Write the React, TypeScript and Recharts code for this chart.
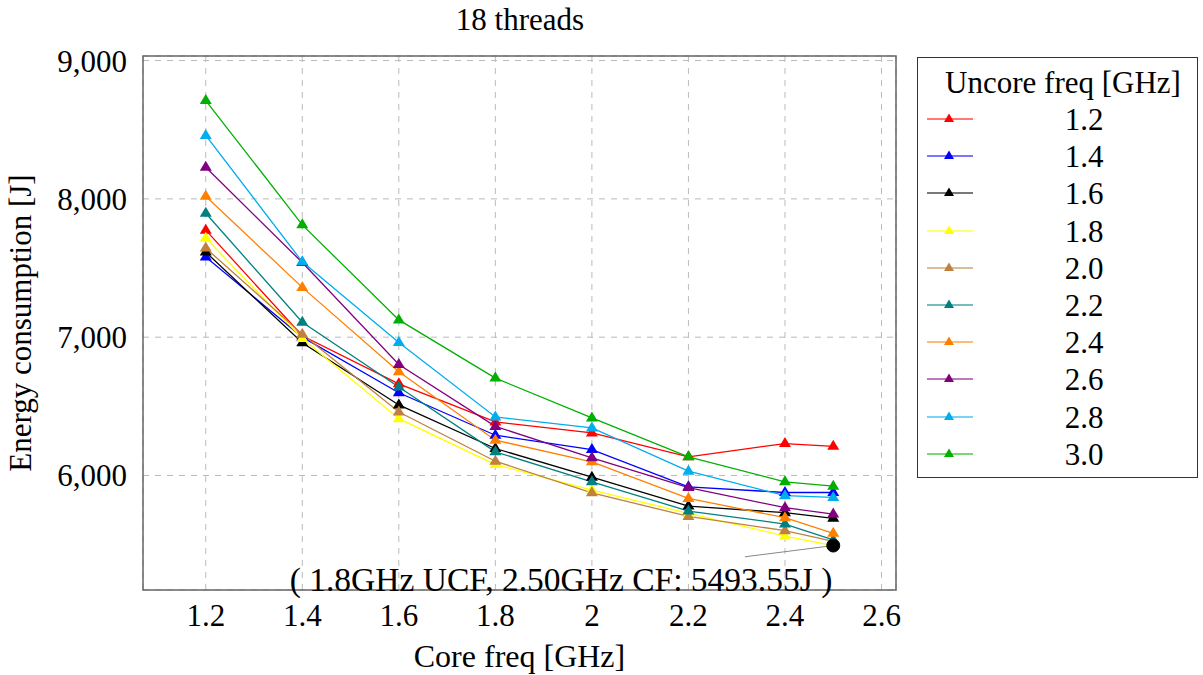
import { LineChart, Line, XAxis, YAxis, CartesianGrid, ReferenceDot, ReferenceLine, ReferenceArea, Label } from "recharts"

const coreFreq = [1.2, 1.4, 1.6, 1.8, 2.0, 2.2, 2.4, 2.5]

const uncoreFreqs = ["1.2", "1.4", "1.6", "1.8", "2.0", "2.2", "2.4", "2.6", "2.8", "3.0"]

const e12 = [7774, 7010, 6663, 6387, 6308, 6135, 6231, 6211]
const e14 = [7579, 7000, 6598, 6291, 6187, 5918, 5877, 5877]
const e16 = [7615, 6960, 6510, 6195, 5988, 5779, 5731, 5690]
const e18 = [7716, 6990, 6411, 6079, 5894, 5726, 5562, 5493.55]
const e20 = [7644, 7022, 6459, 6103, 5875, 5704, 5601, 5524]
const e22 = [7896, 7108, 6640, 6171, 5954, 5743, 5649, 5534]
const e24 = [8019, 7360, 6750, 6255, 6099, 5834, 5695, 5582]
const e26 = [8228, 7540, 6802, 6355, 6128, 5913, 5767, 5721]
const e28 = [8459, 7545, 6961, 6423, 6344, 6031, 5854, 5841]
const e30 = [8711, 7812, 7125, 6704, 6416, 6135, 5954, 5923]

const energies = [e12, e14, e16, e18, e20, e22, e24, e26, e28, e30]

const COLORS = ["#ff0000", "#0000ff", "#000000", "#ffff00", "#bf8040", "#008080", "#ff8000", "#800080", "#00adef", "#00b000"]

const xTicks = [1.2, 1.4, 1.6, 1.8, 2, 2.2, 2.4, 2.6]
const yTicks = [6000, 7000, 8000, 9000]

const minPoint = { x: 2.5, y: 5493.55, text: "( 1.8GHz UCF, 2.50GHz CF: 5493.55J )" }

const X_DOMAIN = [1.07, 2.63]
const Y_DOMAIN = [5172, 9033]

const data = coreFreq.map((f, i) => {
  const row: any = { core: f }
  uncoreFreqs.forEach((u, j) => {
    row["u" + u] = energies[j][i]
  })
  return row
})

const FONT = "'Liberation Serif', 'Times New Roman', Times, serif"
const FS = 31

function Triangle(props: any) {
  const { cx, cy, fill, index } = props
  if (cx == null || cy == null) return <g key={index} />
  return <path key={index} d={`M${cx},${cy - 6.5} L${cx - 6},${cy + 3.5} L${cx + 6},${cy + 3.5} Z`} fill={fill} />
}

function LegendBox() {
  return (
    <div
      style={{
        position: "absolute",
        left: 917,
        top: 57,
        width: 279,
        height: 419,
        border: "1px solid #333",
        background: "#fff",
        fontFamily: FONT,
        fontSize: FS,
        color: "#000",
      }}
    >
      <div style={{ position: "absolute", left: 0, width: 290, top: 7, textAlign: "center", lineHeight: "36px" }}>
        Uncore freq [GHz]
      </div>
      {uncoreFreqs.map((u, i) => (
        <div key={u} style={{ position: "absolute", left: 0, top: 43 + i * 37.2, width: 279, height: 37 }}>
          <svg width={60} height={37} style={{ position: "absolute", left: 0, top: 0 }}>
            <line x1={9} x2={55} y1={18} y2={18} stroke={COLORS[i]} strokeOpacity={0.7} strokeWidth={1.5} />
            <path d="M31,12.5 L26,21 L36,21 Z" fill={COLORS[i]} />
          </svg>
          <div style={{ position: "absolute", left: 126, width: 80, textAlign: "center", top: 0, lineHeight: "37px" }}>{u}</div>
        </div>
      ))}
    </div>
  )
}

export default function App() {
  return (
    <div style={{ position: "absolute", left: 0, top: 0, width: 1203, height: 675, background: "#fff" }}>
      <div style={{ position: "absolute", left: 0, width: 1040, top: 2, textAlign: "center", fontFamily: FONT, fontSize: FS, lineHeight: "36px" }}>
        18 threads
      </div>
      <LineChart width={1203} height={675} data={data} margin={{ top: 56, right: 307, bottom: 0, left: 23 }}>
        <CartesianGrid stroke="#bbb" strokeDasharray="6 6" />
        <XAxis
          dataKey="core"
          type="number"
          domain={X_DOMAIN}
          ticks={xTicks}
          tickFormatter={(v: number) => String(Math.round(v * 10) / 10)}
          tick={{ fontFamily: FONT, fontSize: FS, fill: "#000" }}
          tickLine={false}
          axisLine={false}
          tickMargin={8}
          height={85}
          allowDataOverflow
        >
          <Label value="Core freq [GHz]" position="insideBottom" offset={8} style={{ fontFamily: FONT, fontSize: 32, fill: "#000" }} />
        </XAxis>
        <YAxis
          type="number"
          domain={Y_DOMAIN}
          ticks={yTicks}
          tickFormatter={(v: number) => v.toLocaleString("en-US")}
          tick={{ fontFamily: FONT, fontSize: FS, fill: "#000" }}
          tickLine={false}
          axisLine={false}
          tickMargin={10}
          width={120}
          allowDataOverflow
        >
          <Label value="Energy consumption [J]" angle={-90} position="insideLeft" offset={-3} style={{ fontFamily: FONT, fontSize: FS, fill: "#000", textAnchor: "middle" }} />
        </YAxis>
        {uncoreFreqs.map((u, i) => (
          <Line
            key={u}
            dataKey={"u" + u}
            stroke={COLORS[i]}
            strokeWidth={1.3}
            dot={(p: any) => <Triangle {...p} fill={COLORS[i]} />}
            activeDot={false}
            isAnimationActive={false}
          />
        ))}
        <ReferenceLine
          segment={[
            { x: 2.317, y: 5412 },
            { x: 2.49, y: 5489 },
          ]}
          stroke="#888"
          strokeWidth={1}
        />
        <ReferenceDot x={minPoint.x} y={minPoint.y} r={6.5} fill="#000" stroke="#000" />
        <ReferenceDot x={1.936} y={5248} r={0} fill="none" stroke="none">
          <Label value={minPoint.text} position="center" style={{ fontFamily: FONT, fontSize: 33.5, fill: "#000" }} />
        </ReferenceDot>
        <ReferenceArea x1={X_DOMAIN[0]} x2={X_DOMAIN[1]} y1={Y_DOMAIN[0]} y2={Y_DOMAIN[1]} fill="none" stroke="#666" strokeWidth={1.5} fillOpacity={0} />
      </LineChart>
      <LegendBox />
    </div>
  )
}
